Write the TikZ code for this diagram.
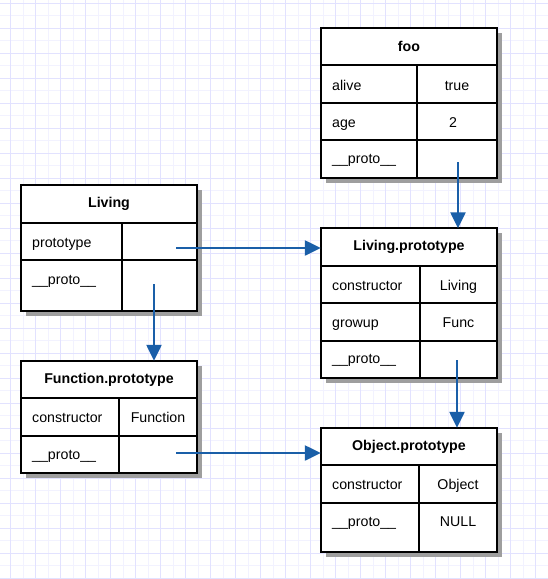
\documentclass[tikz,border=0pt]{standalone}
\usepackage{fontspec}
\setmainfont{Liberation Sans}
\usetikzlibrary{shadows,arrows.meta}
\definecolor{linkblue}{HTML}{1A5FA8}
\definecolor{gridminor}{HTML}{F2F2FF}
\definecolor{gridmajor}{HTML}{E2E2FF}

\tikzset{
  box/.style={draw, line width=2.4pt, fill=white,
    drop shadow={shadow xshift=4.5pt, shadow yshift=-4.5pt, fill=black!38, opacity=1}},
  rule/.style={line width=2.4pt},
  head/.style={font=\fontsize{14.2}{16}\selectfont\bfseries, minimum width=176pt, minimum height=37pt, inner sep=0pt},
  key/.style={anchor=base west, inner sep=0pt},
  val/.style={anchor=base, inner sep=0pt},
  link/.style={draw=linkblue, line width=2.4pt, -{Triangle[length=16pt,width=15pt]}},
}

\begin{document}
\begin{tikzpicture}[x=1pt, y=-1pt, every node/.style={font=\fontsize{14.2}{16}\selectfont}]
\useasboundingbox (0,0) rectangle (548,579);
% grid
\fill[white] (0,0) rectangle (548,579);
\foreach \x in {23.2,48.2,...,548} \draw[gridminor, line width=1pt] (\x,0) -- (\x,579);
\foreach \y in {15.8,40.8,...,579} \draw[gridminor, line width=1pt] (0,\y) -- (548,\y);
\foreach \x in {10.7,35.7,...,548} \draw[gridmajor, line width=1pt] (\x,0) -- (\x,579);
\foreach \y in {3.3,28.3,...,579} \draw[gridmajor, line width=1pt] (0,\y) -- (548,\y);

% foo
\draw[box] (321,28) rectangle (497,178);
\draw[rule] (321,65) -- (497,65) (321,103) -- (497,103) (321,140) -- (497,140) (417,65) -- (417,178);
\node[head] (foo) at (409,46.5) {foo};
\node[key] (fooalive) at (332,90) {alive};
\node[val] (footrue) at (457,90) {true};
\node[key] (fooage) at (332,127) {age};
\node[val] (footwo) at (453,127) {2};
\node[key] (fooproto) at (332,163) {\_\_proto\_\_};
\coordinate (fooptr) at (458,162);

% Living
\draw[box] (21,185) rectangle (197,311);
\draw[rule] (21,223) -- (197,223) (21,260) -- (197,260) (122,223) -- (122,311);
\node[head] (living) at (109,204) {Living};
\node[key] (livproto) at (32,247) {prototype};
\node[key] (livdunder) at (32,284) {\_\_proto\_\_};
\coordinate (livptr) at (176,248);
\coordinate (livdptr) at (154,284);

% Living.prototype
\draw[box] (321,228) rectangle (497,378);
\draw[rule] (321,266) -- (497,266) (321,303) -- (497,303) (321,341) -- (497,341) (420,266) -- (420,378);
\node[head] (livp) at (409,247) {Living.prototype};
\node[key] (livpcons) at (332,290) {constructor};
\node[val] (livpliving) at (458.5,290) {Living};
\node[key] (livpgrow) at (332,327) {growup};
\node[val] (livpfunc) at (458.5,327) {Func};
\node[key] (livpproto) at (332,363) {\_\_proto\_\_};
\coordinate (livpptr) at (457,360);

% Function.prototype
\draw[box] (21,361) rectangle (197,473);
\draw[rule] (21,398) -- (197,398) (21,436) -- (197,436) (119,398) -- (119,473);
\node[head] (funcp) at (109,379.5) {Function.prototype};
\node[key] (funcpcons) at (32,422) {constructor};
\node[val] (funcpfunc) at (158,422) {Function};
\node[key] (funcpproto) at (32,459) {\_\_proto\_\_};
\coordinate (funcpptr) at (176,453);

% Object.prototype
\draw[box] (321,428) rectangle (497,552);
\draw[rule] (321,465) -- (497,465) (321,503) -- (497,503) (419,465) -- (419,552);
\node[head] (objp) at (409,446.5) {Object.prototype};
\node[key] (objpcons) at (332,489) {constructor};
\node[val] (objpobj) at (458,489) {Object};
\node[key] (objpproto) at (332,526) {\_\_proto\_\_};
\node[val] (objpnull) at (458,526) {NULL};

% links
\draw[link] (fooptr) -- (fooptr |- livp.north);
\draw[link] (livptr) -- (livptr -| livp.west);
\draw[link] (livdptr) -- (livdptr |- funcp.north);
\draw[link] (livpptr) -- (livpptr |- objp.north);
\draw[link] (funcpptr) -- (funcpptr -| objp.west);
\end{tikzpicture}
\end{document}
